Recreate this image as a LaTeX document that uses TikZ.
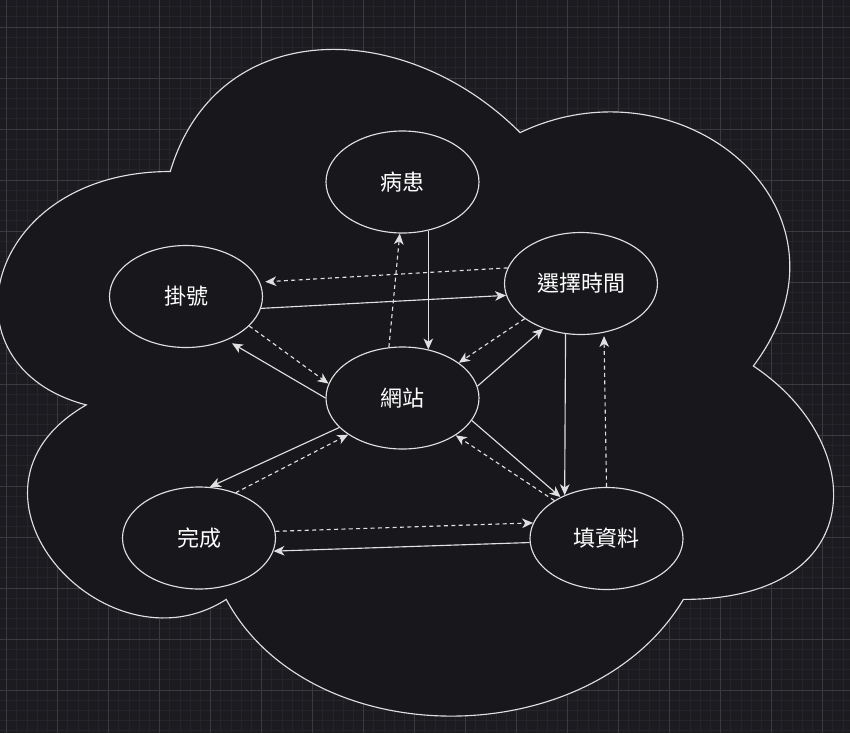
\documentclass[tikz,border=0pt]{standalone}
\usepackage{fontspec}
\usepackage{tikz}
\usetikzlibrary{shapes.geometric,arrows.meta}
\newfontfamily\cjk{Noto Sans CJK TC}
\def\cldx{-63}
\def\cldy{-23}
\def\cldw{933}
\def\cldh{778}
\definecolor{bgc}{HTML}{1C1B20}
\definecolor{cldc}{HTML}{18171C}
\definecolor{minorc}{HTML}{25242A}
\definecolor{majorc}{HTML}{3B3A40}
\definecolor{lnc}{HTML}{E0E0E0}

\begin{document}
\begin{tikzpicture}[x=0.75pt,y=-0.75pt,
    st/.style={ellipse, draw=lnc, line width=0.85pt, fill=cldc, inner sep=0pt,
      minimum width=114.75pt, minimum height=76.5pt, text=white,
      font=\cjk\fontsize{16.5pt}{19pt}\selectfont},
    link/.style={draw=lnc, line width=0.85pt, -{Stealth[length=8.2pt,width=7.2pt,inset=2.4pt]}},
    dlink/.style={link, dash pattern=on 3pt off 2.5pt}]
      \useasboundingbox (0,0) rectangle (850,733);
      \fill[bgc] (0,0) rectangle (850,733);
      \begin{scope}
        \clip (0,0) rectangle (850,733);
        \foreach \i in {0,...,84} {
          \draw[minorc, line width=0.75pt] (-3.5 + 10.2*\i, 0) -- (-3.5 + 10.2*\i, 733);
        }
        \foreach \i in {0,...,72} {
          \draw[minorc, line width=0.75pt] (0, 6.6 + 10.2*\i) -- (850, 6.6 + 10.2*\i);
        }
        \foreach \i in {0,...,16} {
          \draw[majorc, line width=0.75pt] (6.7 + 51*\i, 0) -- (6.7 + 51*\i, 733);
        }
        \foreach \i in {0,...,14} {
          \draw[majorc, line width=0.75pt] (0, 27 + 51*\i) -- (850, 27 + 51*\i);
        }
      \end{scope}
      \draw[lnc, line width=0.85pt, fill=cldc] ({\cldx+0.25*\cldw},{\cldy+0.25*\cldh})
        .. controls ({\cldx+0.05*\cldw},{\cldy+0.25*\cldh}) and ({\cldx},{\cldy+0.5*\cldh}) .. ({\cldx+0.16*\cldw},{\cldy+0.55*\cldh})
        .. controls ({\cldx},{\cldy+0.66*\cldh}) and ({\cldx+0.18*\cldw},{\cldy+0.9*\cldh}) .. ({\cldx+0.31*\cldw},{\cldy+0.8*\cldh})
        .. controls ({\cldx+0.4*\cldw},{\cldy+\cldh}) and ({\cldx+0.7*\cldw},{\cldy+\cldh}) .. ({\cldx+0.8*\cldw},{\cldy+0.8*\cldh})
        .. controls ({\cldx+\cldw},{\cldy+0.8*\cldh}) and ({\cldx+\cldw},{\cldy+0.6*\cldh}) .. ({\cldx+0.875*\cldw},{\cldy+0.5*\cldh})
        .. controls ({\cldx+\cldw},{\cldy+0.3*\cldh}) and ({\cldx+0.8*\cldw},{\cldy+0.1*\cldh}) .. ({\cldx+0.625*\cldw},{\cldy+0.2*\cldh})
        .. controls ({\cldx+0.5*\cldw},{\cldy+0.05*\cldh}) and ({\cldx+0.3*\cldw},{\cldy+0.05*\cldh}) .. ({\cldx+0.25*\cldw},{\cldy+0.25*\cldh}) -- cycle;
      \node[st] (bz) at (402.5,182) {病患};
      \node[st] (gh) at (186,296.5) {掛號};
      \node[st] (xz) at (581,283.5) {選擇時間};
      \node[st] (wz) at (402.5,398) {網站};
      \node[st] (wc) at (199,538) {完成};
      \node[st] (tz) at (606.5,538.5) {填資料};
      \foreach \a/\b/\g in {bz.298/wz.62/0, gh.351/xz.189/0, wz.180/gh.313/4.5, wz.9/xz.230/0,
          xz.253/tz.134/0, wz.342/tz.138/0, wz.205/wc.78/0, tz.183/wc.350/0} {
        \draw[link, shorten >=\g pt] (\a) -- (\b);
      }
      \foreach \a/\b/\g in {wz.105/bz.267/0, xz.168/gh.11/4, gh.335/wz.169/0, xz.212/wz.32/0,
          tz.90/xz.295/2.5, tz.144/wz.325/0, wc.51/wz.214/0, wc.5/tz.168/0} {
        \draw[dlink, shorten >=\g pt] (\a) -- (\b);
      }
    \end{tikzpicture}
\end{document}
